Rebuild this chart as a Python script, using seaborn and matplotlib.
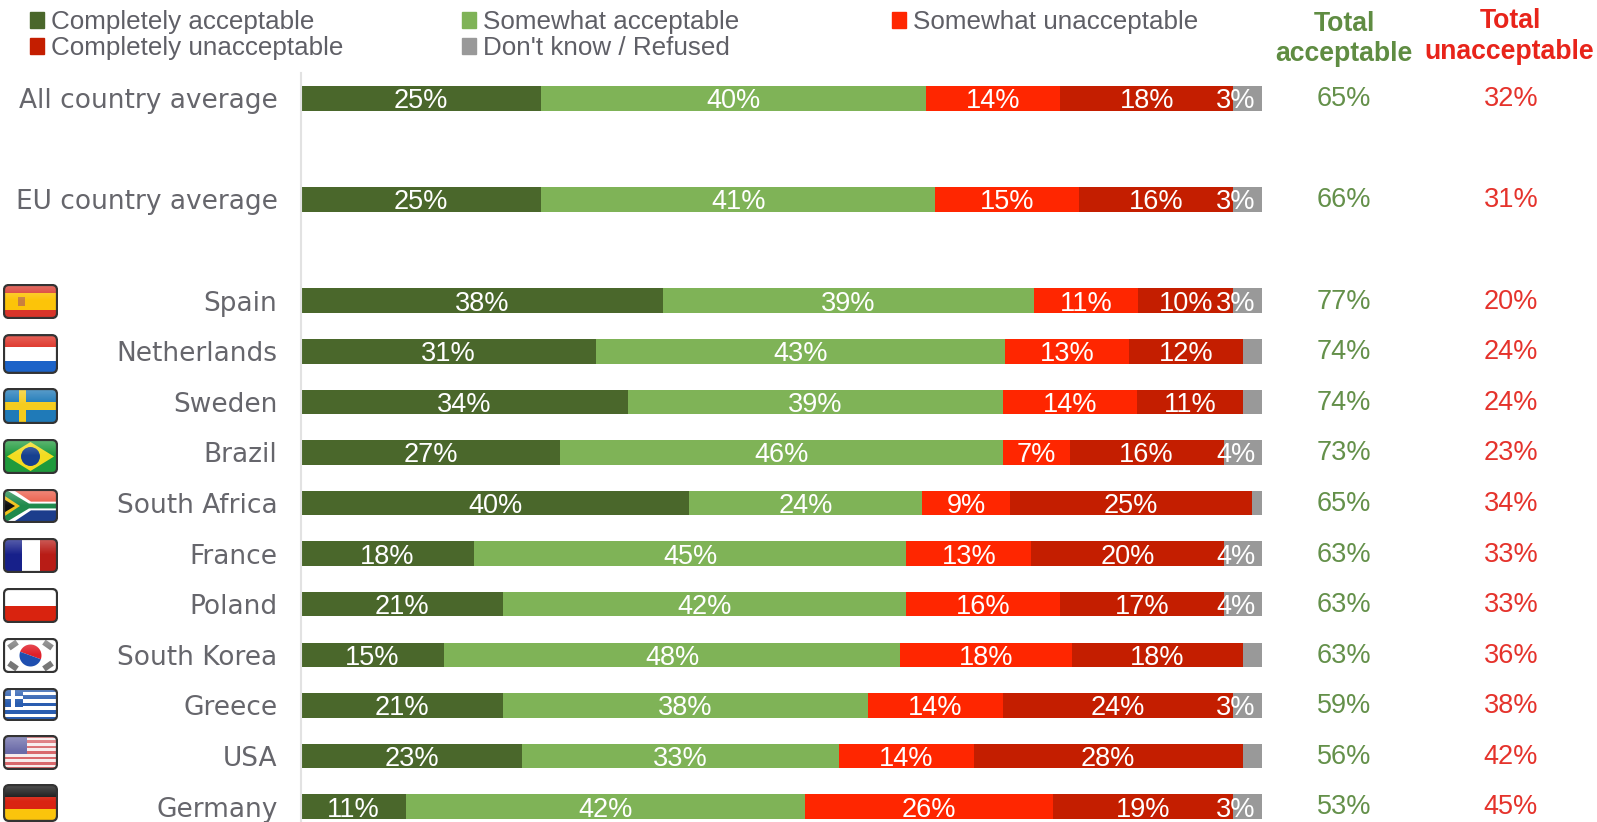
import numpy as np
import matplotlib
matplotlib.use("Agg")
import matplotlib.pyplot as plt
from matplotlib.patches import FancyBboxPatch, Patch, Polygon, Rectangle, Circle, Wedge
from matplotlib.transforms import offset_copy
import seaborn as sns

# Survey shares per row; blank strings separate the averages from the countries
rows = ["All country average", " ", "EU country average", "  ", "Spain", "Netherlands", "Sweden",
        "Brazil", "South Africa", "France", "Poland", "South Korea", "Greece", "USA", "Germany"]
nan = np.nan
completely_ok = [25, nan, 25, nan, 38, 31, 34, 27, 40, 18, 21, 15, 21, 23, 11]
somewhat_ok = [40, nan, 41, nan, 39, 43, 39, 46, 24, 45, 42, 48, 38, 33, 42]
somewhat_not = [14, nan, 15, nan, 11, 13, 14, 7, 9, 13, 16, 18, 14, 14, 26]
completely_not = [18, nan, 16, nan, 10, 12, 11, 16, 25, 20, 17, 18, 24, 28, 19]
dont_know = [3, nan, 3, nan, 3, 2, 2, 4, 1, 4, 4, 2, 3, 2, 3]
total_ok = [65, nan, 66, nan, 77, 74, 74, 73, 65, 63, 63, 63, 59, 56, 53]
total_not = [32, nan, 31, nan, 20, 24, 24, 23, 34, 33, 33, 36, 38, 42, 45]

series_names = ["Completely acceptable", "Somewhat acceptable", "Somewhat unacceptable",
                "Completely unacceptable", "Don't know / Refused"]
series_colors = ["#4a672b", "#7fb357", "#ff2600", "#c41e00", "#999999"]

W, H = 1597, 822
sns.set_theme(style="white")
plt.rcParams["font.family"] = ["Liberation Sans", "DejaVu Sans"]
fig = plt.figure(figsize=(W / 100, H / 100), dpi=100)


def px_axes(x0, y0, x1, y1):
    """Axes placed by pixel box, measured from the top-left of the figure."""
    return fig.add_axes([x0 / W, 1 - y1 / H, (x1 - x0) / W, (y1 - y0) / H])


ax = px_axes(301, 73, 1262, 822)

# Rounded shares do not always add to 100, so each row is stacked on a 100% basis
table = np.array([completely_ok, somewhat_ok, somewhat_not, completely_not, dont_know], dtype=float)
shares = table / np.nansum(table, axis=0) * 100
tops = np.cumsum(shares, axis=0)

# Longest cumulative bar first, so that each shorter one sits on top of it
for i in range(4, -1, -1):
    sns.barplot(x=tops[i], y=rows, order=rows, orient="h", color=series_colors[i],
                saturation=1, width=0.485, linewidth=0, ax=ax)

ax.set_xlim(0, 100)
ax.set_ylim(14.305, -0.5)
ax.set_xticks([])
ax.set_xlabel("")
ax.set_ylabel("")
ax.tick_params(axis="y", length=0, pad=17)
for lab in ax.get_yticklabels():
    lab.set_family("DejaVu Sans")
    lab.set_fontsize(19)
    lab.set_color("#66666c")
sns.despine(ax=ax, top=True, right=True, bottom=True)
ax.spines["left"].set_color("#e2e2e2")
ax.spines["left"].set_linewidth(1.5)

# Segment labels; the last one is pushed to the bar's right end
for i in range(5):
    lows = tops[i] - shares[i]
    for r, value in enumerate(table[i]):
        if np.isnan(value):
            continue
        if i == 4:
            if value >= 3:
                ax.text(99.3, r, f"{value:.0f}%", color="white", fontsize=19.5,
                        ha="right", va="center_baseline")
        else:
            ax.text((lows[r] + tops[i][r]) / 2, r, f"{value:.0f}%", color="white", fontsize=19.5,
                    ha="center", va="center_baseline")

# Total columns to the right of the bars
raised = offset_copy(ax.get_yaxis_transform(), fig=fig, x=0, y=1.5, units="points")
for r in range(len(rows)):
    if np.isnan(total_ok[r]):
        continue
    ax.text((1344 - 301) / 961, r, f"{total_ok[r]}%", transform=raised, color="#64904a", fontsize=19.5,
            ha="center", va="center_baseline", clip_on=False)
    ax.text((1511 - 301) / 961, r, f"{total_not[r]}%", transform=raised, color="#e5332c", fontsize=19.5,
            ha="center", va="center_baseline", clip_on=False)

for txt, x, y, col in [("Total", 1344, 24, "#5f8c42"), ("acceptable", 1344, 54, "#5f8c42"),
                       ("Total", 1510, 21, "#e8241a"), ("unacceptable", 1509, 52, "#e8241a")]:
    fig.text(x / W, 1 - y / H, txt, color=col, fontsize=19.2, fontweight="bold",
             ha="center", va="center")

# Legend columns sit at their own offsets, so each is a separate legend
for members, x in [((0, 3), 22), ((1, 4), 454), ((2,), 884)]:
    handles = [Patch(color=series_colors[m], label=series_names[m]) for m in members]
    fig.legend(handles=handles, loc="upper left", bbox_to_anchor=(x / W, 1 - 2 / H),
               frameon=False, fontsize=18.75, labelcolor="#5f5f66", handlelength=0.56,
               handleheight=0.56, handletextpad=0.25, labelspacing=0.1,
               borderpad=0.3, borderaxespad=0)


# Flags, drawn in a local pixel grid of 55 by 35
def stripes_h(a, colors):
    n = len(colors)
    for k, c in enumerate(colors):
        a.add_patch(Rectangle((0, 35 - (k + 1) * 35 / n), 55, 35 / n, fc=c, lw=0))


def spain(a):
    a.add_patch(Rectangle((0, 0), 55, 35, fc="#d8352a", lw=0))
    a.add_patch(Rectangle((0, 9), 55, 17, fc="#fcc409", lw=0))
    a.add_patch(Rectangle((15, 13), 7, 9, fc="#c9803f", lw=0))


def netherlands(a):
    stripes_h(a, ["#dd2a1e", "#ffffff", "#1c63c8"])


def sweden(a):
    a.add_patch(Rectangle((0, 0), 55, 35, fc="#1f7ab8", lw=0))
    a.add_patch(Rectangle((0, 14), 55, 7, fc="#f5cc1e", lw=0))
    a.add_patch(Rectangle((16, 0), 7, 35, fc="#f5cc1e", lw=0))


def brazil(a):
    a.add_patch(Rectangle((0, 0), 55, 35, fc="#1f9a3c", lw=0))
    a.add_patch(Polygon([(4, 17.5), (27.5, 32), (51, 17.5), (27.5, 3)], fc="#f4dc20", lw=0))
    a.add_patch(Circle((27.5, 17.5), 9.5, fc="#17408f", lw=0))


def south_africa(a):
    a.add_patch(Rectangle((0, 17.5), 55, 17.5, fc="#ea5a46", lw=0))
    a.add_patch(Rectangle((0, 0), 55, 17.5, fc="#1c3d8c", lw=0))
    a.add_patch(Polygon([(0, 35), (9, 35), (28, 22), (55, 22), (55, 13), (28, 13), (9, 0), (0, 0)],
                        fc="#ffffff", lw=0))
    a.add_patch(Polygon([(0, 33), (5, 33), (26, 20), (55, 20), (55, 15), (26, 15), (5, 2), (0, 2)],
                        fc="#1f8a4c", lw=0))
    a.add_patch(Polygon([(0, 29), (17, 17.5), (0, 6)], fc="#f2c21c", lw=0))
    a.add_patch(Polygon([(0, 25), (12, 17.5), (0, 10)], fc="#111111", lw=0))


def france(a):
    a.add_patch(Rectangle((0, 0), 19, 35, fc="#17208a", lw=0))
    a.add_patch(Rectangle((19, 0), 18, 35, fc="#ffffff", lw=0))
    a.add_patch(Rectangle((37, 0), 18, 35, fc="#b81c16", lw=0))


def poland(a):
    stripes_h(a, ["#ffffff", "#d9230f"])


def south_korea(a):
    a.add_patch(Rectangle((0, 0), 55, 35, fc="#ffffff", lw=0))
    a.add_patch(Wedge((27.5, 17.5), 11, -20, 160, fc="#e0202a", lw=0))
    a.add_patch(Wedge((27.5, 17.5), 11, 160, 340, fc="#1f4fb0", lw=0))
    for cx, cy, ang in [(10, 28, 35), (45, 28, -35), (10, 7, -35), (45, 7, 35)]:
        a.add_patch(Rectangle((cx - 5, cy - 3), 10, 6, angle=ang, rotation_point="center",
                              fc="#777777", lw=0))


def greece(a):
    stripes_h(a, ["#2a5db0", "#ffffff"] * 4 + ["#2a5db0"])
    a.add_patch(Rectangle((0, 15), 20, 20, fc="#2a5db0", lw=0))
    a.add_patch(Rectangle((0, 23), 20, 4, fc="#ffffff", lw=0))
    a.add_patch(Rectangle((8, 15), 4, 20, fc="#ffffff", lw=0))


def usa(a):
    stripes_h(a, ["#d9686c", "#f7ecec"] * 6 + ["#d9686c"])
    a.add_patch(Rectangle((0, 16), 24, 19, fc="#6a6aa8", lw=0))


def germany(a):
    stripes_h(a, ["#111111", "#d92312", "#fbc40c"])


flags = [(spain, 284, 319), (netherlands, 334, 374), (sweden, 388, 424), (brazil, 439, 474),
         (south_africa, 489, 523), (france, 538, 573), (poland, 588, 623), (south_korea, 638, 673),
         (greece, 688, 721), (usa, 735, 770), (germany, 784, 822)]

gloss = np.linspace(0.3, 0, 32).reshape(-1, 1)
for draw, top, bottom in flags:
    fa = px_axes(3, top, 58, bottom)
    fa.set_xlim(0, 55)
    fa.set_ylim(0, 35)
    fa.axis("off")
    draw(fa)
    frame = FancyBboxPatch((1, 1), 53, 33, boxstyle="round,pad=0,rounding_size=5",
                           fc="none", ec="#333333", lw=1.6, zorder=5)
    fa.add_patch(frame)
    for art in fa.patches:
        if art is not frame:
            art.set_clip_path(frame)
    sheen = fa.imshow(np.dstack([np.ones((32, 1, 3)), gloss]), extent=(0, 55, 18, 35),
                      aspect="auto", zorder=4)
    sheen.set_clip_path(frame)
    fa.set_xlim(0, 55)
    fa.set_ylim(0, 35)

fig.savefig("out.png", dpi=100)
